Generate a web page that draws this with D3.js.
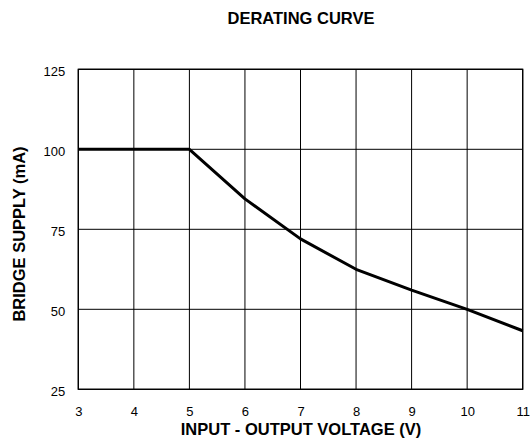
<!DOCTYPE html>
<html>
<head>
<meta charset="utf-8">
<script src="https://cdn.jsdelivr.net/npm/d3@7"></script>
<style>
  body { margin: 0; background: #fff; }
  text { font-family: "Liberation Sans", Arial, sans-serif; fill: #000; }
</style>
</head>
<body>
<script>
// derating curve values
const volts = [3, 4, 5, 6, 7, 8, 9, 10, 11]
const supply = [100, 100, 100, 84.5, 72, 62.5, 56, 50, 43.3]
const xTicks = [3, 4, 5, 6, 7, 8, 9, 10, 11]
const yTicks = [25, 50, 75, 100, 125]

const W = 530, H = 439
const margin = {top: 69.3, right: 7.3, bottom: 49.7, left: 78.3}
, width = W - margin.left - margin.right
, height = H - margin.top - margin.bottom

const svg = d3.select('body').append('svg')
    .attr('width', W)
    .attr('height', H)

const xScale = d3.scaleLinear()
    .domain([3, 11])
    .range([margin.left, margin.left + width])

const yScale = d3.scaleLinear()
    .domain([25, 125])
    .range([margin.top + height, margin.top])

// grid lines
svg.append('g')
    .selectAll('line')
    .data(xTicks)
    .enter()
    .append('line')
    .attr('x1', d => xScale(d)).attr('x2', d => xScale(d))
    .attr('y1', margin.top).attr('y2', margin.top + height)
    .attr('stroke', '#000').attr('stroke-width', 1)

svg.append('g')
    .selectAll('line')
    .data(yTicks)
    .enter()
    .append('line')
    .attr('y1', d => yScale(d)).attr('y2', d => yScale(d))
    .attr('x1', margin.left).attr('x2', margin.left + width)
    .attr('stroke', '#000').attr('stroke-width', 1)

// frame
svg.append('rect')
    .attr('x', margin.left).attr('y', margin.top)
    .attr('width', width).attr('height', height)
    .attr('fill', 'none').attr('stroke', '#000').attr('stroke-width', 1.3)

// axes, only labels shown
const xAxis = svg.append('g')
    .attr('transform', 'translate(0,' + (margin.top + height) + ')')
    .call(d3.axisBottom(xScale).tickValues(xTicks).tickSize(0).tickPadding(17))
xAxis.select('.domain').remove()
xAxis.selectAll('text').attr('font-size', '13px').attr('font-family', null)

const yAxis = svg.append('g')
    .attr('transform', 'translate(' + margin.left + ',0)')
    .call(d3.axisLeft(yScale).tickValues(yTicks).tickSize(0).tickPadding(13))
yAxis.select('.domain').remove()
yAxis.selectAll('text').attr('font-size', '13px').attr('font-family', null).attr('dy', '0.5em')

// curve
const line = d3.line()
    .x(d => xScale(d[0]))
    .y(d => yScale(d[1]))

svg.append('path')
    .datum(volts.map((v, i) => [v, supply[i]]))
    .attr('d', line)
    .attr('fill', 'none')
    .attr('stroke', '#000')
    .attr('stroke-width', 3)
    .attr('stroke-linejoin', 'round')

// titles
svg.append('text')
    .attr('x', 301).attr('y', 23.5)
    .attr('text-anchor', 'middle')
    .attr('font-size', '16.5px').attr('font-weight', 'bold')
    .text('DERATING CURVE')

svg.append('text')
    .attr('x', 301).attr('y', 435)
    .attr('text-anchor', 'middle')
    .attr('font-size', '16.5px').attr('font-weight', 'bold')
    .text('INPUT - OUTPUT VOLTAGE (V)')

svg.append('text')
    .attr('transform', 'translate(24.5,234) rotate(-90)')
    .attr('text-anchor', 'middle')
    .attr('font-size', '16.5px').attr('font-weight', 'bold')
    .text('BRIDGE SUPPLY (mA)')
</script>
</body>
</html>
